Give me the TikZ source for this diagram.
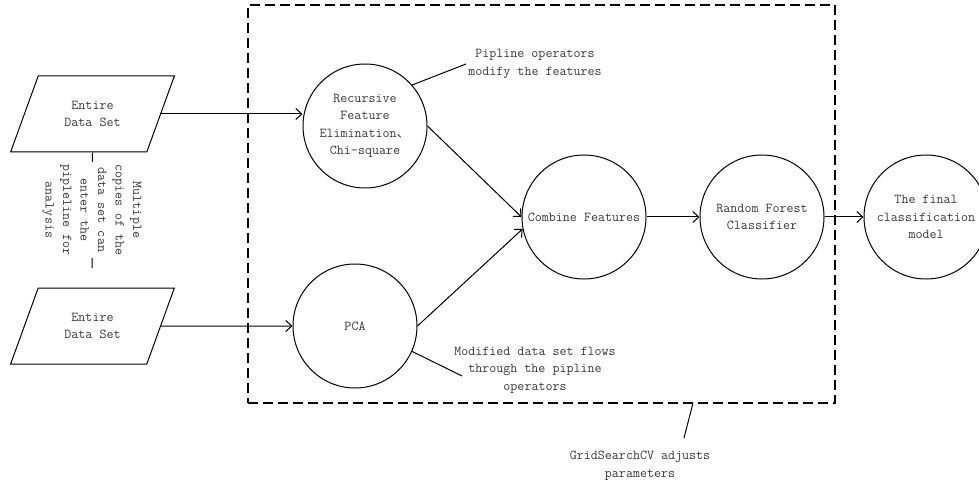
\documentclass[tikz,border=0pt]{standalone}
\usepackage{fontspec}
\usepackage{xcolor}
\usetikzlibrary{shapes.geometric,arrows.meta}
\newfontfamily\cjkfont{Noto Sans CJK SC}
\definecolor{FontColor}{HTML}{3A3A3A}
\newcommand\nodedata{Entire\\Data Set}
\newcommand\noderfe{Recursive\\Feature\\Elimination{\cjkfont 、}\\Chi-square}
\newcommand\nodepca{PCA}
\newcommand\nodecomb{Combine Features}
\newcommand\noderf{Random Forest\\Classifier}
\newcommand\nodefinal{The final\\classification\\model}
\newcommand\notecopies{Multiple\\copies of the\\data set can\\enter the\\pipleline for\\analysis}
\newcommand\notepipe{Pipline operators\\modify the features}
\newcommand\noteflow{Modified data set flows\\through the pipline\\operators}
\newcommand\notegrid{GridSearchCV adjusts\\parameters}
\tikzstyle{mynodestyle} = [align=center, text=FontColor, font=\ttfamily\fontsize{13.6}{17.5}\selectfont]
\tikzstyle{cn} = [mynodestyle, circle, draw, minimum size=124pt, inner sep=0pt]
\tikzstyle{pn} = [mynodestyle, trapezium, draw, trapezium left angle=64, trapezium right angle=116, trapezium stretches=true, minimum width=165pt, minimum height=76pt]
\tikzstyle{an} = [mynodestyle, inner sep=2pt]
\tikzset{>={Straight Barb[length=6pt,width=11pt]}, every picture/.style={line width=1pt}}

\begin{document}
\begin{tikzpicture}[x=1pt, y=-1pt]
\useasboundingbox (0,0) rectangle (979,486);
\node[draw, dashed, dash pattern=on 10pt off 5pt, line width=1.3pt, minimum width=587pt, minimum height=398pt] (cv) at (541.5,204) {};
\node[pn] (d1) at (92.5,114) {\nodedata};
\node[pn] (d2) at (92.5,326) {\nodedata};
\node[cn] (rfe) at (365,126) {\noderfe};
\node[cn] (pca) at (355,326) {\nodepca};
\node[cn] (comb) at (584,217) {\nodecomb};
\node[cn] (rf) at (762,217) {\noderf};
\node[cn] (final) at (926,217) {\nodefinal};
\node[an] (pipenote) at (535,64) {\notepipe};
\node[an] (flownote) at (535,370) {\noteflow};
\node[an] (gridnote) at (640,466) {\notegrid};
\coordinate (copiesend) at (92,268);
\coordinate (flowend) at (462,376);
\coordinate (gridstart) at (693,403);
\coordinate (gridend) at (684,438);
\draw (d1.south) -- (copiesend);
\node[an, rotate=-90, fill=white] (copiesnote) at (92,210) {\notecopies};
\draw [->] (d1.east) -- (d1.east -| rfe.west);
\draw [->] (d2.east) -- (pca.west);
\draw [->] (rfe.east) -- (comb.west);
\draw [->] (pca.east) -- (comb.191);
\draw [->] (comb) -- (rf);
\draw [->] (rf) -- (final);
\draw (rfe.41) -- (pipenote.west);
\draw (pca.-24) -- (flowend);
\draw (gridstart) -- (gridend);
\end{tikzpicture}
\end{document}
